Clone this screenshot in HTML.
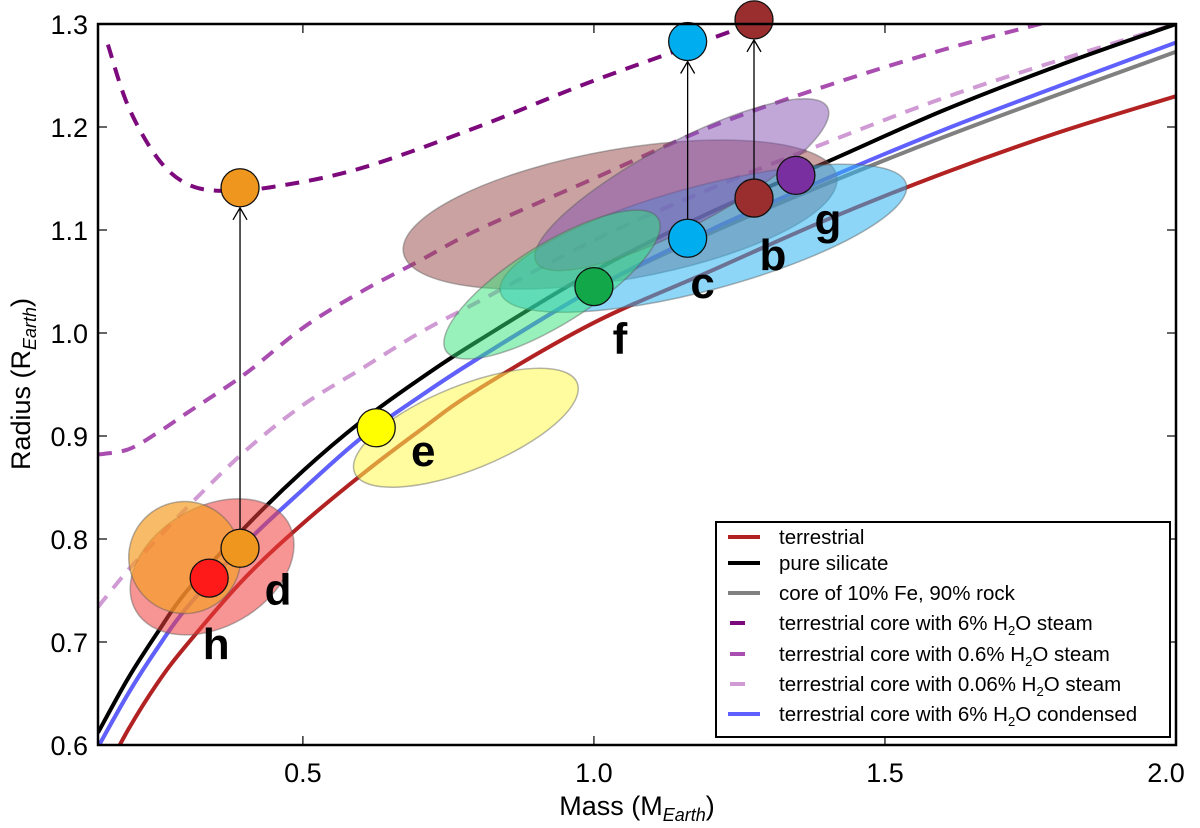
<!DOCTYPE html>
<html><head><meta charset="utf-8"><style>
html,body{margin:0;padding:0;background:#fff}
svg{display:block;font-family:"Liberation Sans","DejaVu Sans",sans-serif}
</style></head><body>
<svg id="chart" width="1200" height="828" viewBox="0 0 1200 828">
<defs><clipPath id="plotclip"><rect x="98" y="24" width="1078" height="721"/></clipPath></defs>
<g id="curves" clip-path="url(#plotclip)"></g>
<g id="blobs" clip-path="url(#plotclip)"></g>
<g id="arrows"></g>
<g id="points"></g>
<g id="axes"></g>
<g id="legend"></g>
</svg>
<script>
const massGrid = [0.148,0.2,0.25,0.3,0.4,0.5,0.6,0.7,0.8,1.0,1.2,1.4,1.6,1.8,2.0];
const terrestrial = [0.56,0.615,0.66,0.697,0.762,0.815,0.862,0.905,0.945,1.01,1.06,1.11,1.155,1.195,1.23];
const pureSilicate = [0.612,0.665,0.709,0.749,0.811,0.866,0.914,0.955,0.992,1.06,1.117,1.166,1.216,1.26,1.30];
const core10Fe = [0.598,0.65,0.694,0.733,0.795,0.848,0.898,0.938,0.975,1.043,1.097,1.145,1.19,1.232,1.273];
const condensed6 = [0.598,0.65,0.694,0.733,0.795,0.848,0.898,0.938,0.975,1.043,1.10,1.15,1.197,1.24,1.282];
const steam06 = [0.882,0.887,0.903,0.922,0.96,1.005,1.04,1.07,1.10,1.15,1.20,1.24,1.275,1.305,1.335];
const steam006 = [0.734,0.77,0.80,0.83,0.885,0.93,0.965,1.0,1.03,1.09,1.14,1.185,1.228,1.265,1.30];
const steam6Mass = [0.165,0.2,0.25,0.3,0.36,0.45,0.6,0.8,1.0,1.27,1.4];
const steam6 = [1.28,1.22,1.17,1.145,1.138,1.142,1.16,1.2,1.245,1.30,1.33];

const planetNames = ['h','d','e','f','c','b','g'];
const planetMass = [0.339,0.392,0.626,1.0,1.161,1.275,1.347];
const planetRadius = [0.762,0.791,0.908,1.045,1.092,1.131,1.153];
const planetColors = ['#ff1a1a','#ef961e','#ffff00','#12a84a','#00aeef','#9a2e2e','#7a2fa0'];
const arrowFrom = [1,4,5];
const arrowToRadius = [1.141,1.283,1.304];

const blobNames = ['b','c','g','f','e','h','d'];
const blobMass = [1.045,1.188,1.151,0.928,0.78,0.344,0.297];
const blobRadius = [1.115,1.092,1.144,1.047,0.908,0.773,0.782];
const blobRx = [220,210,165,125,120,88,56];
const blobRy = [65,52,42,40,42,60,56];
const blobRot = [-10,-15,-28,-32,-22,-30,-30];
const blobColors = ['rgba(150,70,70,0.5)','rgba(50,180,240,0.55)','rgba(130,80,175,0.5)','rgba(50,225,120,0.5)','rgba(255,250,80,0.55)','rgba(240,60,60,0.55)','rgba(245,160,40,0.7)'];

const xTicks = [0.5,1.0,1.5,2.0];
const xTickLabels = ['0.5','1.0','1.5','2.0'];
const yTicks = [0.6,0.7,0.8,0.9,1.0,1.1,1.2,1.3];
const yTickLabels = ['0.6','0.7','0.8','0.9','1.0','1.1','1.2','1.3'];

const X0=98,X1=1176,Y0=24,Y1=745,M0=0.148,M1=2.0,R0=0.6,R1=1.3;
function xs(m){return X0+(m-M0)/(M1-M0)*(X1-X0);}
function ys(r){return Y1-(r-R0)/(R1-R0)*(Y1-Y0);}
const NS='http://www.w3.org/2000/svg';
function mk(t,a,p){const e=document.createElementNS(NS,t);for(const k in a)e.setAttribute(k,a[k]);if(p)p.appendChild(e);return e;}
function smooth(ms,rs){
  const p=ms.map((m,i)=>[xs(m),ys(rs[i])]);
  let d='M'+p[0][0]+','+p[0][1];
  for(let i=0;i<p.length-1;i++){
    const a=p[i-1]||p[i],b=p[i],c=p[i+1],e=p[i+2]||c;
    d+=' C'+(b[0]+(c[0]-a[0])/6)+','+(b[1]+(c[1]-a[1])/6)+' '+(c[0]-(e[0]-b[0])/6)+','+(c[1]-(e[1]-b[1])/6)+' '+c[0]+','+c[1];
  }
  return d;
}
const gc=document.getElementById('curves');
const curveDefs=[
  [massGrid,steam006,'#d09ad4','14 10','curve-steam-0.06'],
  [massGrid,steam06,'#a94eb0','14 10','curve-steam-0.6'],
  [steam6Mass,steam6,'#7d0a7d','14 10','curve-steam-6'],
  [massGrid,terrestrial,'#b22222','','curve-terrestrial'],
  [massGrid,core10Fe,'#808080','','curve-core-10fe'],
  [massGrid,condensed6,'#6060ff','','curve-condensed-6'],
  [massGrid,pureSilicate,'#000000','','curve-pure-silicate']
];
curveDefs.forEach(c=>{
  const el=mk('path',{d:smooth(c[0],c[1]),fill:'none',stroke:c[2],'stroke-width':4,'stroke-dasharray':c[3]},gc);
  
  
});
const gb=document.getElementById('blobs');
blobNames.forEach((n,i)=>{
  const cx=xs(blobMass[i]),cy=ys(blobRadius[i]);
  const el=mk('ellipse',{cx:cx,cy:cy,rx:blobRx[i],ry:blobRy[i],transform:'rotate('+blobRot[i]+' '+cx+' '+cy+')',fill:blobColors[i],stroke:'rgba(90,90,90,0.45)','stroke-width':1.5},gb);
  
  
});
const ga=document.getElementById('arrows'),gp=document.getElementById('points');
arrowFrom.forEach((pi,k)=>{
  const x=xs(planetMass[pi]),y1=ys(planetRadius[pi])-19,y2=ys(arrowToRadius[k])+20;
  const ln=mk('path',{d:'M'+x+','+y1+' L'+x+','+y2+' M'+(x-7)+','+(y2+12)+' L'+x+','+y2+' L'+(x+7)+','+(y2+12),fill:'none',stroke:'#000','stroke-width':1.3},ga);
  
  
  const c=mk('circle',{cx:x,cy:ys(arrowToRadius[k]),r:19,fill:planetColors[pi],stroke:'#111','stroke-width':1.3},gp);
  
  
});
const labelOff=[[7,67],[38,42],[47,24],[26,53],[15,46],[19,58],[32,45]];
planetNames.forEach((n,i)=>{
  const x=xs(planetMass[i]),y=ys(planetRadius[i]);
  const c=mk('circle',{cx:x,cy:y,r:19,fill:planetColors[i],stroke:'#111','stroke-width':1.3},gp);
  
  
  const t=mk('text',{x:x+labelOff[i][0],y:y+labelOff[i][1]+14,'font-size':44,'font-weight':'bold','text-anchor':'middle',fill:'#000'},gp);
  t.textContent=n;
  
  
});
const gx=document.getElementById('axes');
const fr=mk('rect',{x:X0,y:Y0,width:X1-X0,height:Y1-Y0,fill:'none',stroke:'#000','stroke-width':2.5},gx);


xTicks.forEach((v,i)=>{
  const x=xs(v);
  mk('line',{x1:x,x2:x,y1:Y1,y2:Y1-9,stroke:'#000','stroke-width':1.2},gx);
  mk('line',{x1:x,x2:x,y1:Y0,y2:Y0+9,stroke:'#000','stroke-width':1.2},gx);
  const t=mk('text',{x:x-(v===2?10:0),y:782,'font-size':27,'text-anchor':'middle'},gx);
  t.textContent=xTickLabels[i];
  
  
});
yTicks.forEach((v,i)=>{
  const y=ys(v);
  mk('line',{x1:X0,x2:X0+9,y1:y,y2:y,stroke:'#000','stroke-width':1.2},gx);
  mk('line',{x1:X1,x2:X1-9,y1:y,y2:y,stroke:'#000','stroke-width':1.2},gx);
  const t=mk('text',{x:88,y:y+10,'font-size':27,'text-anchor':'end'},gx);
  t.textContent=yTickLabels[i];
  
  
});
const xl=mk('text',{x:637,y:815,'font-size':27,'text-anchor':'middle'},gx);
xl.innerHTML='Mass (M<tspan font-size="18" font-style="italic" dy="6">Earth</tspan><tspan dy="-6">)</tspan>';


const yl=mk('text',{x:0,y:0,'font-size':27,'text-anchor':'middle',transform:'translate(30,384) rotate(-90)'},gx);
yl.innerHTML='Radius (R<tspan font-size="18" font-style="italic" dy="6">Earth</tspan><tspan dy="-6">)</tspan>';


const lg=document.getElementById('legend');
const box=mk('rect',{x:716,y:522,width:454,height:215,fill:'#fff',stroke:'#000','stroke-width':2},lg);


const legendColors=['#b22222','#000000','#808080','#7d0a7d','#a94eb0','#d09ad4','#6060ff'];
const sub='H<tspan font-size="13" dy="5">2</tspan><tspan dy="-5">O';
const legendLabels=['terrestrial','pure silicate','core of 10% Fe, 90% rock','terrestrial core with 6% '+sub+' steam</tspan>','terrestrial core with 0.6% '+sub+' steam</tspan>','terrestrial core with 0.06% '+sub+' steam</tspan>','terrestrial core with 6% '+sub+' condensed</tspan>'];
const legendY=[537,563,593,623,654,684,714];
legendLabels.forEach((l,i)=>{
  const dashed=i>=3&&i<=5;
  const y=legendY[i];
  const ln=mk('line',{x1:dashed?730:728,x2:dashed?745:760,y1:y,y2:y,stroke:legendColors[i],'stroke-width':4},lg);
  
  
  const t=mk('text',{x:779,y:y+7,'font-size':20.5},lg);
  t.innerHTML=l;
  
  
});
</script>
</body></html>
